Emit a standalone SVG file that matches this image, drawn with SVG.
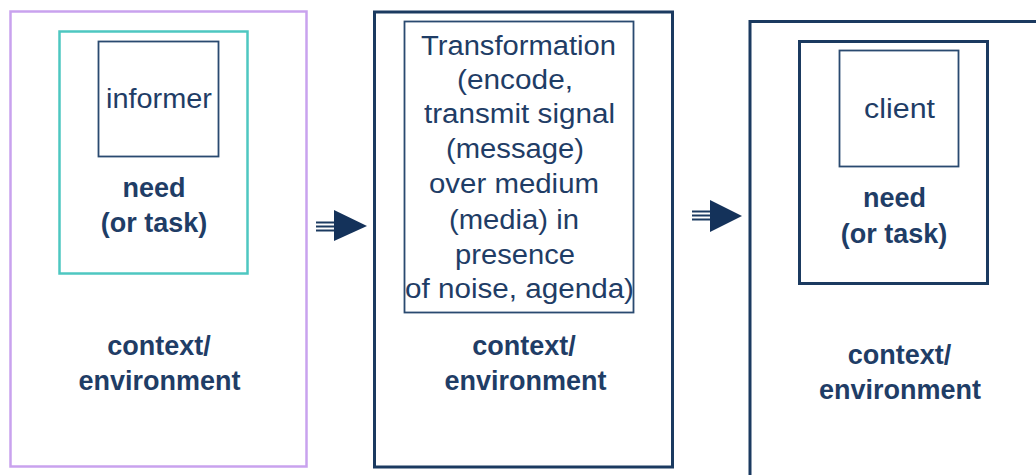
<svg xmlns="http://www.w3.org/2000/svg" width="1036" height="475" viewBox="0 0 1036 475">
<style>
.outer{fill:none;stroke:#1b3a60;stroke-width:3}
.inner{fill:none;stroke:#2a4a70;stroke-width:1.8}
.t{font-family:"Liberation Sans",Arial,sans-serif;font-size:27px;fill:#1f3d66;text-anchor:middle}
.b{font-family:"Liberation Sans",Arial,sans-serif;font-size:27px;font-weight:bold;fill:#1f3d66;text-anchor:middle}
.sh{stroke:#1b3a60;stroke-width:2}
.hd{fill:#14325a}
</style>
<rect width="1036" height="475" fill="#ffffff"/>
<g id="informer-side">
  <rect x="10.5" y="11.5" width="296" height="455" fill="none" stroke="#c9a2ee" stroke-width="2.5"/>
  <rect x="59.5" y="31.5" width="188" height="242" fill="none" stroke="#4ec7c1" stroke-width="2.5"/>
  <rect x="98.5" y="41.5" width="120" height="115" class="inner"/>
  <text class="t" x="159" y="108" textLength="106" lengthAdjust="spacingAndGlyphs">informer</text>
  <text class="b" x="154" y="197">need</text>
  <text class="b" x="154" y="232">(or task)</text>
  <text class="b" x="159" y="355">context/</text>
  <text class="b" x="159.5" y="390">environment</text>
</g>
<g id="transformation">
  <rect x="374.5" y="12" width="298" height="455" class="outer"/>
  <rect x="404.5" y="21.5" width="229" height="291" class="inner"/>
  <text class="t" x="518.5" y="55" textLength="195" lengthAdjust="spacingAndGlyphs">Transformation</text>
  <text class="t" x="515" y="89" textLength="116" lengthAdjust="spacingAndGlyphs">(encode,</text>
  <text class="t" x="519.5" y="123" textLength="191" lengthAdjust="spacingAndGlyphs">transmit signal</text>
  <text class="t" x="515" y="158" textLength="138" lengthAdjust="spacingAndGlyphs">(message)</text>
  <text class="t" x="514" y="193" textLength="170" lengthAdjust="spacingAndGlyphs">over medium</text>
  <text class="t" x="514" y="229" textLength="130" lengthAdjust="spacingAndGlyphs">(media) in</text>
  <text class="t" x="515" y="264" textLength="120" lengthAdjust="spacingAndGlyphs">presence</text>
  <text class="t" x="519.5" y="298" textLength="229" lengthAdjust="spacingAndGlyphs">of noise, agenda)</text>
  <text class="b" x="524" y="355">context/</text>
  <text class="b" x="525.5" y="390">environment</text>
</g>
<g id="client-side">
  <path d="M750 480 V21.5 H1040" class="outer"/>
  <rect x="799.5" y="41.5" width="188" height="242" class="outer" stroke-width="2.5"/>
  <rect x="839.5" y="50.5" width="119" height="116" class="inner"/>
  <text class="t" x="899.5" y="118" textLength="71" lengthAdjust="spacingAndGlyphs">client</text>
  <text class="b" x="894.5" y="207">need</text>
  <text class="b" x="894" y="243">(or task)</text>
  <text class="b" x="899.5" y="364">context/</text>
  <text class="b" x="900" y="399">environment</text>
</g>
<g id="connectors">
  <g id="arrow1">
    <line x1="316" y1="222.5" x2="338" y2="222.5" class="sh"/>
    <line x1="316" y1="226.5" x2="338" y2="226.5" class="sh"/>
    <line x1="316" y1="230.5" x2="338" y2="230.5" class="sh"/>
    <polygon points="334,210 367,226 334,241" class="hd"/>
  </g>
  <g id="arrow2">
    <line x1="692" y1="211.5" x2="713" y2="211.5" class="sh"/>
    <line x1="692" y1="215.5" x2="713" y2="215.5" class="sh"/>
    <line x1="692" y1="219.5" x2="713" y2="219.5" class="sh"/>
    <polygon points="710,200 742,216 710,232" class="hd"/>
  </g>
</g>
</svg>
